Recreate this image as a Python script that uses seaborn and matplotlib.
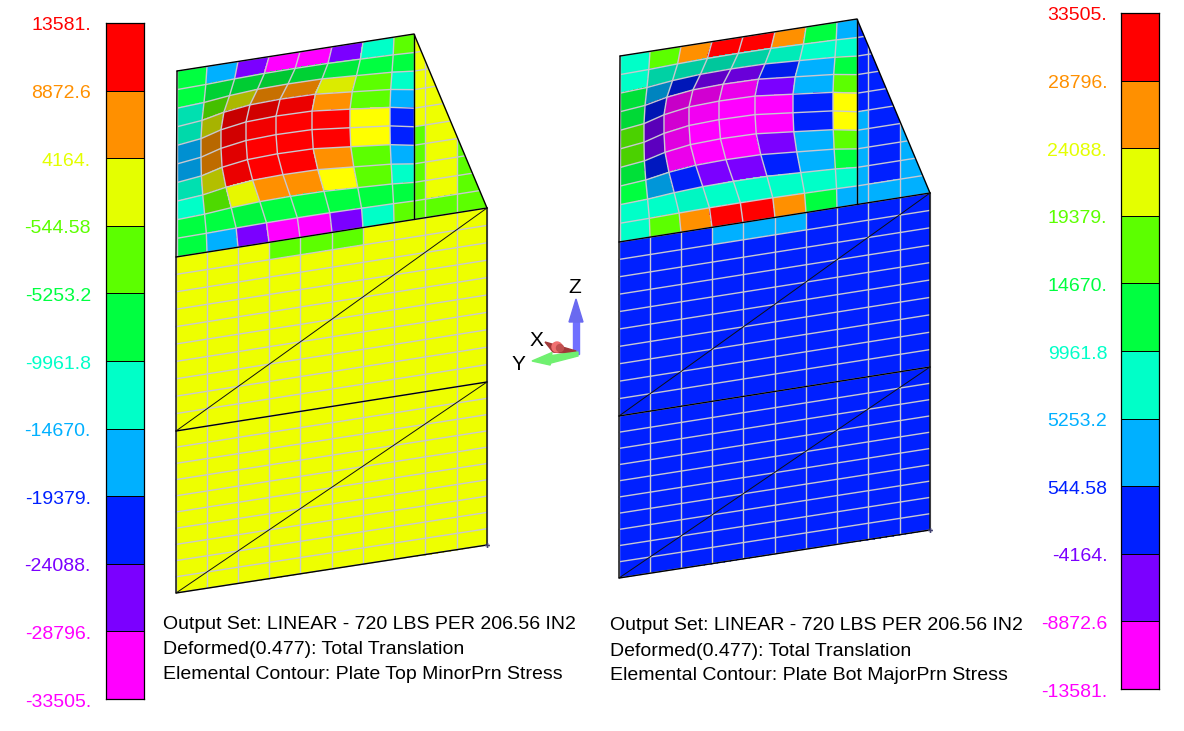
import matplotlib
matplotlib.use('Agg')
import matplotlib.pyplot as plt
import numpy as np
import seaborn as sns
from matplotlib.colors import ListedColormap, to_rgb
from matplotlib.patches import Circle, Polygon
from matplotlib.path import Path
from matplotlib.transforms import ScaledTranslation

# contour bands, top to bottom
BAND_COLORS = ['#FF0000', '#FF9000', '#E4FF00', '#5CFF00', '#00FF40',
               '#00FFC8', '#00B0FF', '#0020FF', '#7B00FF', '#FF00FF']
PURE_YELLOW = '#FFFF00'
PLATE_YELLOW = '#EEFF00'
R, O, Y, L, G, T, S, B, V, M, P = range(11)

left_labels = ['13581.', '8872.6', '4164.', '-544.58', '-5253.2', '-9961.8',
               '-14670.', '-19379.', '-24088.', '-28796.', '-33505.']
right_labels = ['33505.', '28796.', '24088.', '19379.', '14670.', '9961.8',
                '5253.2', '544.58', '-4164.', '-8872.6', '-13581.']
label_bands = [R, O, Y, L, G, T, S, B, V, M, M]

# element bands of the upper plate: 10 rows, 11 columns
left_plate = [
    [G, S, V, M, M, V, T, L, Y, Y, L],
    [G, G, G, G, G, G, G, G, Y, Y, L],
    [T, L, Y, O, O, Y, L, T, Y, Y, L],
    [T, Y, R, R, R, O, L, S, Y, Y, L],
    [S, O, R, R, R, R, P, B, Y, Y, L],
    [S, O, R, R, R, R, P, B, L, Y, L],
    [T, Y, R, R, R, O, L, S, L, Y, L],
    [T, L, Y, O, O, P, L, T, L, Y, L],
    [G, G, G, G, G, G, G, G, L, Y, L],
    [G, S, V, M, M, V, T, L, L, L, L],
]
right_plate = [
    [T, L, O, R, R, O, G, S, B, B, S],
    [T, T, T, T, T, T, T, T, B, B, S],
    [G, S, B, V, V, B, S, G, B, B, S],
    [G, B, M, M, M, V, S, L, B, B, S],
    [L, V, M, M, M, M, B, P, B, B, S],
    [L, V, M, M, M, M, B, P, S, B, S],
    [G, B, M, M, M, V, S, L, S, B, S],
    [G, S, B, V, V, B, S, G, S, B, S],
    [T, T, T, T, T, T, T, T, S, B, S],
    [T, L, O, R, R, O, G, S, S, S, S],
]
# brightness of the same elements (lit from the bulge)
plate_shade = [
    [1.00, 1.00, 1.00, 1.00, 1.00, 1.00, 1, 1, 1, 1, 1],
    [1.00, 0.82, 0.80, 0.78, 0.82, 0.92, 1, 1, 1, 1, 1],
    [0.88, 0.75, 0.72, 0.78, 0.85, 0.92, 1, 1, 1, 1, 1],
    [0.85, 0.70, 0.78, 0.82, 0.92, 1.00, 1, 1, 1, 1, 1],
    [0.82, 0.72, 0.82, 0.95, 1.00, 1.00, 1, 1, 1, 1, 1],
    [0.82, 0.75, 0.88, 1.00, 1.00, 1.00, 1, 1, 1, 1, 1],
    [0.88, 0.75, 0.92, 1.00, 1.00, 1.00, 1, 1, 1, 1, 1],
    [1.00, 0.85, 0.97, 1.00, 1.00, 1.00, 1, 1, 1, 1, 1],
    [1.00, 1.00, 0.97, 1.00, 1.00, 1.00, 1, 1, 1, 1, 1],
    [1.00, 1.00, 1.00, 1.00, 1.00, 1.00, 1, 1, 1, 1, 1],
]
# lower plate: first row only differs, rest is one band
left_lower_top = [Y, Y, Y, L, L, L, Y, Y, Y, Y]
left_lower_rest = Y
right_lower_top = [B, B, B, S, S, S, B, B, B, B]
right_lower_rest = B

left_title = ['Output Set: LINEAR - 720 LBS PER 206.56 IN2',
              'Deformed(0.477): Total Translation',
              'Elemental Contour: Plate Top MinorPrn Stress']
right_title = ['Output Set: LINEAR - 720 LBS PER 206.56 IN2',
               'Deformed(0.477): Total Translation',
               'Elemental Contour: Plate Bot MajorPrn Stress']

# mesh layout, pixels of the left model; the right one is shifted
upper_cols = np.array([177, 207, 238, 269, 300, 332, 363, 394, 414, 425, 457, 487.])
lower_cols = np.array([176, 207, 238, 269, 300, 332, 363, 394, 425, 457, 487.])
bulge_x = np.array([0, 6, 17, 23, 24, 20, 13, 4, 0, 0, 0, 0.])
bulge_y = np.array([0, 2, 6, 9, 10, 10, 7, 4, 0, 0, 0, 0.])
bulge_rows = np.array([0, .2, .5, .83, 1, 1, .94, .71, .4, .11, 0])
GRID = '#C8C8D0'

sns.set_theme(style='white')
plt.rcParams['font.family'] = ['Liberation Sans', 'DejaVu Sans']

fig = plt.figure(figsize=(11.84, 7.31), dpi=100, facecolor='white')
ax = fig.add_axes([0, 0, 1, 1])
ax.set_xlim(0, 1184)
ax.set_ylim(731, 0)
ax.axis('off')


def band_rgb(levels, shade=None):
    table = [to_rgb(c) for c in BAND_COLORS + [PURE_YELLOW]]
    table[Y] = to_rgb(PLATE_YELLOW)
    rgb = np.array([[table[v] for v in row] for row in levels])
    if shade is not None:
        rgb = rgb * np.array(shade)[:, :, None]
    return rgb


def draw_model(dx, dy, plate, lower_top, lower_rest):
    # lower plate, 10 + 10 rows split at the horizontal stiffener
    top = 257 + (lower_cols - 176) * (208 - 257) / 311
    mid = 431 + (lower_cols - 176) * (382 - 431) / 311
    bot = 593 + (lower_cols - 176) * (545 - 593) / 311
    f = np.linspace(0, 1, 11)[:, None]
    Ys = np.vstack([top + (mid - top) * f, (mid + (bot - mid) * f)[1:]])
    Xs = np.tile(lower_cols, (21, 1))
    levels = [lower_top] + [[lower_rest] * 10 for _ in range(19)]
    ax.pcolormesh(Xs + dx, Ys + dy, band_rgb(levels), antialiased=False, zorder=1)
    ax.plot(Xs + dx, Ys + dy, color=GRID, lw=1.0, zorder=2)
    ax.plot((Xs + dx).T, (Ys + dy).T, color=GRID, lw=1.0, zorder=2)

    # upper plate with the side wedge, wedge clipped by the sloped edge
    top = 71 + (upper_cols - 177) * (34 - 71) / (414 - 177)
    bot = 257 + (upper_cols - 176) * (208 - 257) / (487 - 176)
    frac = np.linspace(0, 1, 11)[:, None]
    Xs = np.tile(upper_cols, (11, 1)) - np.outer(bulge_rows, bulge_x)
    Ys = top + (bot - top) * frac - np.outer(bulge_rows, bulge_y)
    outline = Path(np.array([(177, 71), (414, 34), (487, 208), (176, 257)]) + (dx, dy))
    mesh = ax.pcolormesh(Xs + dx, Ys + dy, band_rgb(plate, plate_shade),
                         antialiased=False, zorder=2)
    mesh.set_clip_path(outline, ax.transData)
    for art in ax.plot(Xs + dx, Ys + dy, color=GRID, lw=1.0, zorder=3) + \
            ax.plot((Xs + dx).T, (Ys + dy).T, color=GRID, lw=1.0, zorder=3):
        art.set_clip_path(outline, ax.transData)

    # plate outlines and diagonals
    heavy = [[(177, 71), (414, 34), (487, 208)],
             [(414, 34), (414, 219)],
             [(176, 257), (487, 208)],
             [(177, 71), (176, 257), (176, 593), (487, 545), (487, 208)],
             [(176, 431), (487, 382)]]
    thin = [[(176, 431), (487, 208)], [(176, 593), (487, 382)]]
    for pts in heavy:
        pts = np.array(pts) + (dx, dy)
        ax.plot(pts[:, 0], pts[:, 1], color='black', lw=1.0, zorder=4)
    for pts in thin:
        pts = np.array(pts) + (dx, dy)
        ax.plot(pts[:, 0], pts[:, 1], color='#101010', lw=0.7, zorder=4)
    ax.plot(487 + dx, 545 + dy, 'P', color='#404070', ms=3.5, mew=0, zorder=5)


def draw_bar(rect, labels, pad):
    x0, y0, x1, y1 = rect
    bar = fig.add_axes([x0 / 1184, 1 - y1 / 731, (x1 - x0) / 1184, (y1 - y0) / 731])
    sns.heatmap(np.arange(10).reshape(-1, 1), ax=bar, cbar=False, vmin=0, vmax=9,
                cmap=ListedColormap(BAND_COLORS), linewidths=0.7, linecolor='black')
    for s in bar.spines.values():
        s.set_visible(True)
        s.set_color('black')
        s.set_linewidth(0.9)
    bar.set_xticks([])
    bar.set_yticks(np.arange(11))
    bar.set_yticklabels(labels, rotation=0, fontsize=14)
    bar.tick_params(axis='y', length=0, pad=pad)
    # labels sit a little below their band edge
    shift = ScaledTranslation(0, -3 / 72 * 0.72, fig.dpi_scale_trans)
    for tick, band in zip(bar.get_yticklabels(), label_bands):
        tick.set_color(BAND_COLORS[band])
        tick.set_transform(tick.get_transform() + shift)


draw_model(0, 0, left_plate, left_lower_top, left_lower_rest)
draw_model(443, -15, right_plate, right_lower_top, right_lower_rest)

draw_bar((105.5, 23, 144, 699), left_labels, 10.5)
draw_bar((1120.5, 13, 1159, 689), right_labels, 9.5)

for i, line in enumerate(left_title):
    ax.text(163, 624.5 + 25 * i, line, fontsize=14, color='black', va='center')
for i, line in enumerate(right_title):
    ax.text(610, 626 + 25 * i, line, fontsize=14, color='black', va='center')

# coordinate triad between the models
ax.add_patch(Polygon([(573, 322), (579, 322), (579, 354), (573, 354)], color='#7070FF', zorder=6))
ax.add_patch(Polygon([(576, 299), (569, 322), (583, 322)], color='#6A6AF0', zorder=6))
ax.add_patch(Polygon([(545, 342), (576, 351), (574, 354), (553, 352)], color='#A03838', zorder=7))
ax.add_patch(Circle((557, 347), 5, color='#F07070', zorder=7))
ax.add_patch(Circle((560, 348), 3.5, color='#C05050', zorder=7))
ax.add_patch(Polygon([(532, 361), (552, 352.5), (551.5, 355.5), (578, 352), (578, 356), (551, 363), (550, 365)],
                     color='#70F070', zorder=8))
ax.text(575, 287.5, 'Z', fontsize=15, ha='center', va='center', color='black', zorder=9)
ax.text(536.5, 341, 'X', fontsize=15, ha='center', va='center', color='black', zorder=9)
ax.text(518, 364, 'Y', fontsize=15, ha='center', va='center', color='black', zorder=9)

fig.savefig('out.png', dpi=100)
